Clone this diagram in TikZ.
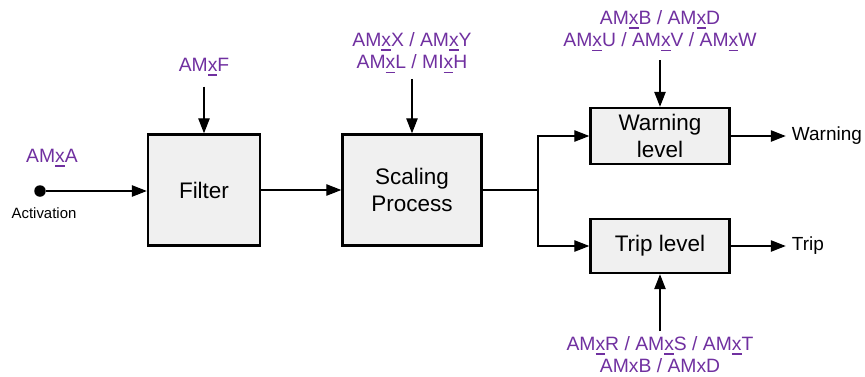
\documentclass[tikz,border=0pt]{standalone}
\usepackage{fontspec}
\setmainfont{Liberation Sans}
\usepackage{xcolor}
\definecolor{amviolet}{RGB}{112, 48, 160}
\definecolor{blockfill}{RGB}{240, 240, 240}
\usetikzlibrary{arrows.meta, positioning}
\newcommand{\ux}{{\setbox0\hbox{x}\rlap{\rule[-2.4pt]{\wd0}{0.9pt}}x}}

\begin{document}
\begin{tikzpicture}[x=0.02cm, y=-0.02cm,
  blk/.style={draw, line width=1.4pt, fill=blockfill, align=center,
    font=\fontsize{12.8}{15.3}\selectfont},
  setlbl/.style={text=amviolet, align=center, inner sep=1pt,
    font=\fontsize{11}{12.6}\selectfont},
  outlbl/.style={font=\fontsize{10.8}{12}\selectfont},
  arr/.style={-{Triangle[length=8.5pt, width=6.5pt]}, line width=0.7pt}]
\useasboundingbox (0,0) rectangle (865,376);
% Blocks
\node[blk, minimum width=2.24cm, minimum height=2.22cm] (filter) at (204,190) {Filter};
\node[blk, minimum width=2.78cm, minimum height=2.22cm] (scaling) at (412,190) {Scaling\\Process};
\node[blk, minimum width=2.78cm, minimum height=1.12cm] (warn) at (660,136) {Warning\\level};
\node[blk, minimum width=2.78cm, minimum height=1.08cm] (trip) at (660,246) {Trip level};
% Input
\node[circle, fill, inner sep=0pt, minimum size=0.23cm] (act) at (40,191) {};
\node[setlbl] (ama) at (52,158) {AM\ux A};
\node[font=\fontsize{8.5}{10}\selectfont] (actlbl) at (44,213) {Activation};
\draw[arr] (act) -- (act -| filter.west);
% Settings
\node[setlbl] (amf) at (204,67) {AM\ux F};
\node[setlbl] (amsc) at (412,53) {AM\ux X / AM\ux Y\\AM\ux L / MI\ux H};
\node[setlbl] (amwarn) at (660,31) {AM\ux B / AM\ux D\\AM\ux U / AM\ux V / AM\ux W};
\node[setlbl] (amtrip) at (660,355) {AM\ux R / AM\ux S / AM\ux T\\AMxB / AMxD};
\draw[arr] ([yshift=-5pt]amf.south) -- (filter.north);
\draw[arr] ([yshift=-2pt]amsc.south) -- (scaling.north);
\draw[arr] ([yshift=-4pt]amwarn.south) -- (warn.north);
\draw[arr] ([yshift=2pt]amtrip.north) -- (trip.south);
% Flow
\coordinate (split) at (538,190);
\draw[arr] (filter) -- (scaling);
\draw[line width=0.7pt] (scaling.east) -- (split);
\draw[arr] (split) |- (warn.west);
\draw[arr] (split) |- (trip.west);
% Outputs
\node[outlbl, right=1.1cm of warn] (warnout) {Warning};
\node[outlbl, right=1.1cm of trip] (tripout) {Trip};
\draw[arr] (warn) -- (warnout);
\draw[arr] (trip) -- (tripout);
\end{tikzpicture}
\end{document}
